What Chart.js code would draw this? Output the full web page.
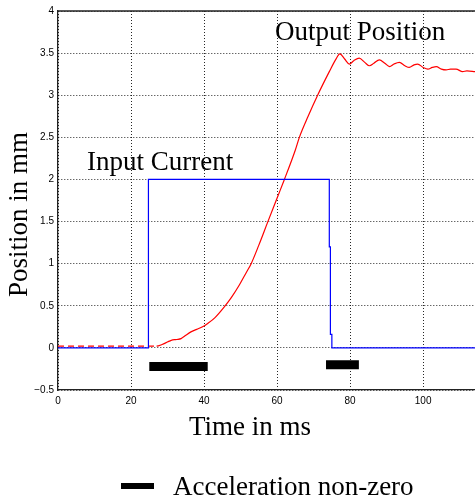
<!doctype html>
<html lang="en">
<head>
<meta charset="utf-8">
<title>Position in mm</title>
<style>
  * { margin: 0; padding: 0; }
  body { background: #fff; }
  canvas { display: block; }
</style>
</head>
<body>
<canvas id="myChart" width="475" height="502"></canvas>
<script src="https://cdn.jsdelivr.net/npm/chart.js"></script>
<script>
// values: time in ms, position in mm

// input current (blue step)
const inputTime = [0, 24.7, 24.7, 24.8, 24.8, 74.3, 74.3, 74.6, 74.6, 75.0, 75.0, 114.2];
const inputPos  = [0, 0, 1, 1, 2, 2, 1.2, 1.2, 0.16, 0.16, 0, 0];

// output position (red)
const outputTime = [0, 25, 27, 28.5, 30, 31, 32.5, 33.7, 35, 36.4, 38, 39.6, 41, 43, 45.6, 47.5,
  49.7, 51.5, 52.9, 55, 57.4, 60.2, 62, 65, 66.1, 68.5, 71.1, 74.3, 76, 77.2, 78.5, 79.8, 81,
  82.5, 84, 85.3, 86.5, 88, 89.5, 90.8, 92, 93.5, 95, 96.2, 97.5, 98.5, 100, 101.3, 102.5,
  103.6, 105, 106.3, 107.5, 109, 110.8, 112, 114.2];
const outputPos = [0.02, 0.02, 0.02, 0.04, 0.07, 0.09, 0.1, 0.11, 0.15, 0.19, 0.22, 0.25, 0.29,
  0.36, 0.49, 0.6, 0.75, 0.89, 1.0, 1.22, 1.49, 1.8, 2.0, 2.35, 2.5, 2.75, 3.0, 3.28, 3.42,
  3.49, 3.43, 3.37, 3.41, 3.44, 3.39, 3.35, 3.38, 3.42, 3.38, 3.34, 3.37, 3.39, 3.35, 3.33,
  3.36, 3.37, 3.33, 3.31, 3.33, 3.34, 3.31, 3.30, 3.31, 3.31, 3.28, 3.29, 3.28];

// intervals where acceleration is non-zero (black bars)
const accelStart = [25, 73.4];
const accelEnd   = [41, 82.4];
const accelLevel = [-0.22, -0.2];

// axes
const xTicks = [0, 20, 40, 60, 80, 100];
const yTicks = [-0.5, 0, 0.5, 1, 1.5, 2, 2.5, 3, 3.5, 4];
const xMax = 114.2;

const toPoints = (xs, ys) => xs.map((x, i) => ({ x: x, y: ys[i] }));

const accelSets = accelStart.map((s, i) => ({
  label: 'Acceleration non-zero',
  data: toPoints([s, accelEnd[i]], [accelLevel[i], accelLevel[i]]),
  borderColor: '#000',
  borderWidth: 9,
  borderCapStyle: 'butt'
}));

// text labels, legend and top box line
const annotations = {
  id: 'annotations',
  afterDraw(chart) {
    const { ctx, chartArea } = chart;
    ctx.save();
    ctx.strokeStyle = '#222';
    ctx.lineWidth = 1.3;
    ctx.beginPath();
    ctx.moveTo(chartArea.left, chartArea.top);
    ctx.lineTo(chartArea.right, chartArea.top);
    ctx.stroke();

    ctx.fillStyle = '#000';
    ctx.font = '27px "Liberation Serif", serif';
    ctx.textBaseline = 'alphabetic';
    ctx.textAlign = 'left';
    ctx.fillText('Input Current', 87, 170);
    ctx.fillText('Output Position', 275, 40);
    ctx.fillText('Time in ms', 189, 435);
    ctx.fillText('Acceleration non-zero', 173, 495);

    // legend swatch
    ctx.fillRect(121, 483, 33, 6);

    ctx.translate(27, 297);
    ctx.rotate(-Math.PI / 2);
    ctx.fillText('Position in mm', 0, 0);
    ctx.restore();
  }
};

const config = {
  type: 'scatter',
  data: {
    datasets: [
      {
        label: 'Input Current',
        data: toPoints(inputTime, inputPos),
        borderColor: '#0000ff',
        borderWidth: 1.2
      },
      {
        label: 'Output Position',
        data: toPoints(outputTime, outputPos),
        borderColor: '#ff0000',
        borderWidth: 1.2,
        cubicInterpolationMode: 'monotone',
        segment: {
          borderDash: ctx => ctx.p1.parsed.x <= 27 ? [6, 4] : undefined
        }
      },
      ...accelSets
    ]
  },
  options: {
    responsive: false,
    animation: false,
    showLine: true,
    elements: { point: { radius: 0, hoverRadius: 0 } },
    layout: { padding: { top: 11, right: 0, left: 0, bottom: 0 } },
    plugins: {
      legend: { display: false },
      tooltip: { enabled: false }
    },
    scales: {
      x: {
        type: 'linear',
        min: 0,
        max: xMax,
        afterFit(scale) { scale.height = 112; },
        afterBuildTicks(scale) { scale.ticks = xTicks.map(v => ({ value: v })); },
        grid: { color: 'rgba(0,0,0,0.85)', drawTicks: false },
        border: { display: true, color: '#222', width: 1.3, dash: [1, 2] },
        ticks: {
          padding: 5,
          color: '#000',
          font: { family: '"Liberation Sans", sans-serif', size: 10 },
          callback: v => String(v)
        }
      },
      y: {
        min: -0.5,
        max: 4,
        afterFit(scale) { scale.width = 58; },
        afterBuildTicks(scale) { scale.ticks = yTicks.map(v => ({ value: v })); },
        grid: { color: 'rgba(0,0,0,0.85)', drawTicks: false },
        border: { display: true, color: '#222', width: 1.3, dash: [1, 2] },
        ticks: {
          padding: 4,
          color: '#000',
          font: { family: '"Liberation Sans", sans-serif', size: 10 },
          callback: v => v < 0 ? '\u2212' + Math.abs(v) : String(v)
        }
      }
    }
  },
  plugins: [annotations]
};

const myChart = new Chart(document.getElementById('myChart'), config);
</script>
</body>
</html>
